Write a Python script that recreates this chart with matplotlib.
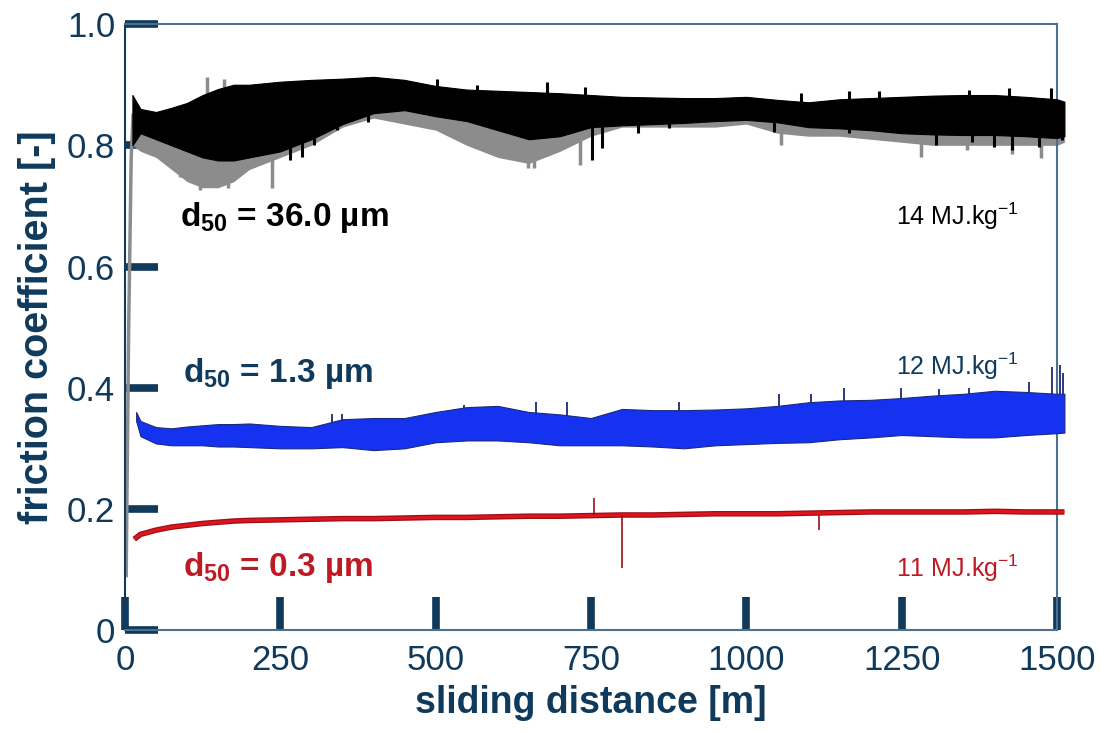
import matplotlib
matplotlib.use("Agg")
import matplotlib.pyplot as plt

plt.rcParams['font.family'] = ['Liberation Sans', 'DejaVu Sans']
plt.rcParams['mathtext.fontset'] = 'custom'
plt.rcParams['mathtext.rm'] = 'Liberation Sans'
plt.rcParams['mathtext.bf'] = 'Liberation Sans:bold'
plt.rcParams['mathtext.it'] = 'Liberation Sans:italic'

# ---------------- data ----------------
dist = [12, 25, 50, 75, 100, 125, 150, 175, 200, 250, 300, 350, 400, 450, 500,
        550, 600, 650, 700, 750, 800, 850, 900, 950, 1000, 1050, 1100, 1150,
        1200, 1250, 1300, 1350, 1400, 1450, 1500, 1512]

# 36.0 um powder (14 MJ/kg): black band envelope and grey underlay
black_upper = [0.883, 0.860, 0.855, 0.862, 0.870, 0.883, 0.893, 0.900, 0.900, 0.905,
               0.908, 0.910, 0.913, 0.908, 0.898, 0.892, 0.890, 0.888, 0.886, 0.883,
               0.880, 0.879, 0.878, 0.878, 0.880, 0.875, 0.871, 0.876, 0.878, 0.880,
               0.882, 0.883, 0.883, 0.880, 0.876, 0.872]
black_lower = [0.800, 0.820, 0.810, 0.800, 0.790, 0.780, 0.775, 0.775, 0.780, 0.790,
               0.810, 0.835, 0.853, 0.858, 0.848, 0.840, 0.825, 0.810, 0.815, 0.830,
               0.833, 0.835, 0.837, 0.840, 0.842, 0.838, 0.830, 0.828, 0.825, 0.820,
               0.818, 0.817, 0.817, 0.815, 0.812, 0.815]
grey_lower = [0.800, 0.790, 0.780, 0.760, 0.740, 0.730, 0.730, 0.740, 0.760, 0.780,
              0.800, 0.830, 0.845, 0.835, 0.825, 0.800, 0.780, 0.770, 0.790, 0.815,
              0.830, 0.830, 0.830, 0.830, 0.835, 0.820, 0.815, 0.815, 0.810, 0.805,
              0.800, 0.800, 0.800, 0.800, 0.800, 0.805]
grey_rise_x = [2, 3, 6, 10, 13]
grey_rise_y = [0.09, 0.20, 0.50, 0.78, 0.85]
grey_spike_x = [88, 121, 166, 236, 648, 659, 732, 1056, 1281, 1355, 1428, 1474]
grey_spike_y = [0.748, 0.726, 0.730, 0.730, 0.762, 0.762, 0.767, 0.800, 0.780, 0.792, 0.785, 0.779]
grey_up_x = [132, 160]
grey_up_y = [0.913, 0.910]
black_down_x = [265, 285, 305, 341, 391, 751, 767, 825, 876, 1045, 1166, 1305, 1363, 1399, 1428, 1471, 1508]
black_down_y = [0.776, 0.780, 0.800, 0.825, 0.838, 0.775, 0.795, 0.820, 0.828, 0.822, 0.820,
                0.800, 0.805, 0.797, 0.792, 0.797, 0.808]
black_up_x = [502, 566, 680, 740, 1088, 1166, 1214, 1359, 1423, 1490]
black_up_y = [0.910, 0.900, 0.905, 0.896, 0.887, 0.889, 0.890, 0.892, 0.894, 0.894]

# 1.3 um powder (12 MJ/kg): blue band envelope
blue_dist = [18, 25, 50, 75, 100, 125, 150, 175, 200, 250, 300, 350, 400, 450, 500,
             550, 600, 650, 700, 750, 800, 850, 900, 950, 1000, 1050, 1100, 1150,
             1200, 1250, 1300, 1350, 1400, 1450, 1500, 1512]
blue_upper = [0.360, 0.345, 0.335, 0.333, 0.336, 0.338, 0.340, 0.340, 0.341, 0.337,
              0.335, 0.348, 0.350, 0.350, 0.360, 0.368, 0.370, 0.360, 0.356, 0.350,
              0.365, 0.363, 0.363, 0.364, 0.366, 0.370, 0.376, 0.379, 0.380, 0.383,
              0.387, 0.390, 0.395, 0.393, 0.390, 0.390]
blue_lower = [0.345, 0.320, 0.308, 0.305, 0.305, 0.305, 0.303, 0.303, 0.302, 0.300,
              0.300, 0.302, 0.297, 0.300, 0.310, 0.313, 0.313, 0.310, 0.305, 0.305,
              0.305, 0.303, 0.300, 0.305, 0.307, 0.309, 0.310, 0.315, 0.318, 0.322,
              0.320, 0.318, 0.318, 0.322, 0.325, 0.326]
blue_spike_x = [334, 349, 545, 662, 711, 892, 1053, 1104, 1158, 1249, 1310, 1359, 1455, 1492, 1505, 1510]
blue_spike_y = [0.356, 0.357, 0.372, 0.376, 0.376, 0.376, 0.390, 0.390, 0.400, 0.400, 0.398,
                0.400, 0.410, 0.435, 0.437, 0.425]

# 0.3 um powder (11 MJ/kg): red trace
red_dist = [15, 25, 50, 75, 100, 125, 150, 175, 200, 250, 300, 350, 400, 450, 500,
            550, 600, 650, 700, 750, 800, 850, 900, 950, 1000, 1050, 1100, 1150,
            1200, 1250, 1300, 1350, 1400, 1450, 1500, 1512]
red_mu = [0.150, 0.158, 0.165, 0.170, 0.173, 0.176, 0.178, 0.180, 0.181, 0.182,
          0.183, 0.184, 0.184, 0.185, 0.186, 0.186, 0.187, 0.188, 0.188, 0.189,
          0.190, 0.190, 0.191, 0.192, 0.192, 0.192, 0.193, 0.194, 0.195, 0.195,
          0.195, 0.195, 0.196, 0.195, 0.195, 0.195]
red_spike_x = [755, 800, 1117]
red_spike_y = [0.218, 0.102, 0.165]

x_ticks = [0, 250, 500, 750, 1000, 1250, 1500]
y_ticks = [0, 0.2, 0.4, 0.6, 0.8, 1.0]
y_ticklabels = ['0', '0.2', '0.4', '0.6', '0.8', '1.0']

labels_d50 = [r'$\mathbf{d_{50}}$ = 36.0 µm', r'$\mathbf{d_{50}}$ = 1.3 µm', r'$\mathbf{d_{50}}$ = 0.3 µm']
labels_energy = ['14 MJ.kg$^{-1}$', '12 MJ.kg$^{-1}$', '11 MJ.kg$^{-1}$']

# ---------------- styling ----------------
NAVY = '#0f3a5c'
SPINE = '#4f6f8e'
RED_TXT = '#be1a24'
GREY = '#8c8c8c'
BLUE = '#1432f0'
BLUE_EDGE = '#1a2a7a'

fig = plt.figure(figsize=(11.01, 7.31), dpi=100)
ax = fig.add_axes([0.1135, 0.138, 0.8465, 0.829])

# black / grey series
ax.plot(grey_rise_x, grey_rise_y, color=GREY, lw=2.5, zorder=2)
ax.fill_between(dist, grey_lower, black_upper, color=GREY, lw=0, zorder=2, clip_on=False)
ax.vlines(grey_spike_x, [0.82] * len(grey_spike_x), grey_spike_y, color=GREY, lw=2.5, zorder=2)
ax.vlines(grey_up_x, [0.87] * len(grey_up_x), grey_up_y, color=GREY, lw=2.5, zorder=2)
ax.fill_between(dist, black_lower, black_upper, color='black', lw=0.8, edgecolor='black',
                zorder=3, clip_on=False)
ax.vlines(black_down_x, [0.85] * len(black_down_x), black_down_y, color='black', lw=2.2, zorder=3,
          clip_on=False)
ax.vlines(black_up_x, [0.86] * len(black_up_x), black_up_y, color='black', lw=2.2, zorder=3)

# blue series
ax.fill_between(blue_dist, blue_lower, blue_upper, facecolor=BLUE, edgecolor=BLUE_EDGE,
                lw=0.8, zorder=3, clip_on=False)
ax.vlines(blue_spike_x, [0.33] * len(blue_spike_x), blue_spike_y, color=BLUE_EDGE, lw=1.3, zorder=2.9,
          clip_on=False)

# red series
ax.plot(red_dist, red_mu, color='#9a1018', lw=4.0, zorder=3, solid_capstyle='butt', clip_on=False)
ax.plot(red_dist, red_mu, color='#e0141c', lw=2.2, zorder=3, solid_capstyle='butt', clip_on=False)
ax.vlines(red_spike_x, [0.19] * len(red_spike_x), red_spike_y, color='#9a1018', lw=1.2, zorder=3)

# text labels
ax.text(88, 0.681, labels_d50[0], color='black', fontsize=24, fontweight='bold', va='center', ha='left')
ax.text(93, 0.424, labels_d50[1], color=NAVY, fontsize=24, fontweight='bold', va='center', ha='left')
ax.text(93, 0.104, labels_d50[2], color=RED_TXT, fontsize=24, fontweight='bold', va='center', ha='left')
ax.text(1241, 0.683, labels_energy[0], color='black', fontsize=18, va='center', ha='left')
ax.text(1241, 0.435, labels_energy[1], color=NAVY, fontsize=18, va='center', ha='left')
ax.text(1241, 0.102, labels_energy[2], color=RED_TXT, fontsize=18, va='center', ha='left')

ax.set_xlim(0, 1500)
ax.set_ylim(0, 1.0)
ax.set_xticks(x_ticks)
ax.set_xticklabels([str(v) for v in x_ticks])
ax.set_yticks(y_ticks)
ax.set_yticklabels(y_ticklabels)
ax.tick_params(direction='in', length=24, width=5.5, color=NAVY, labelcolor=NAVY,
               labelsize=25)
ax.tick_params(axis='y', pad=7)
ax.tick_params(axis='x', pad=10)
for s in ax.spines.values():
    s.set_color(SPINE)
    s.set_linewidth(1.5)
ax.spines['left'].set_color(NAVY)

ax.set_xlabel('sliding distance [m]', fontsize=27, fontweight='bold', color=NAVY, labelpad=6)
ax.set_ylabel('friction coefficient [-]', fontsize=28.5, fontweight='bold', color=NAVY, labelpad=8)

fig.savefig('out.png', dpi=100)
